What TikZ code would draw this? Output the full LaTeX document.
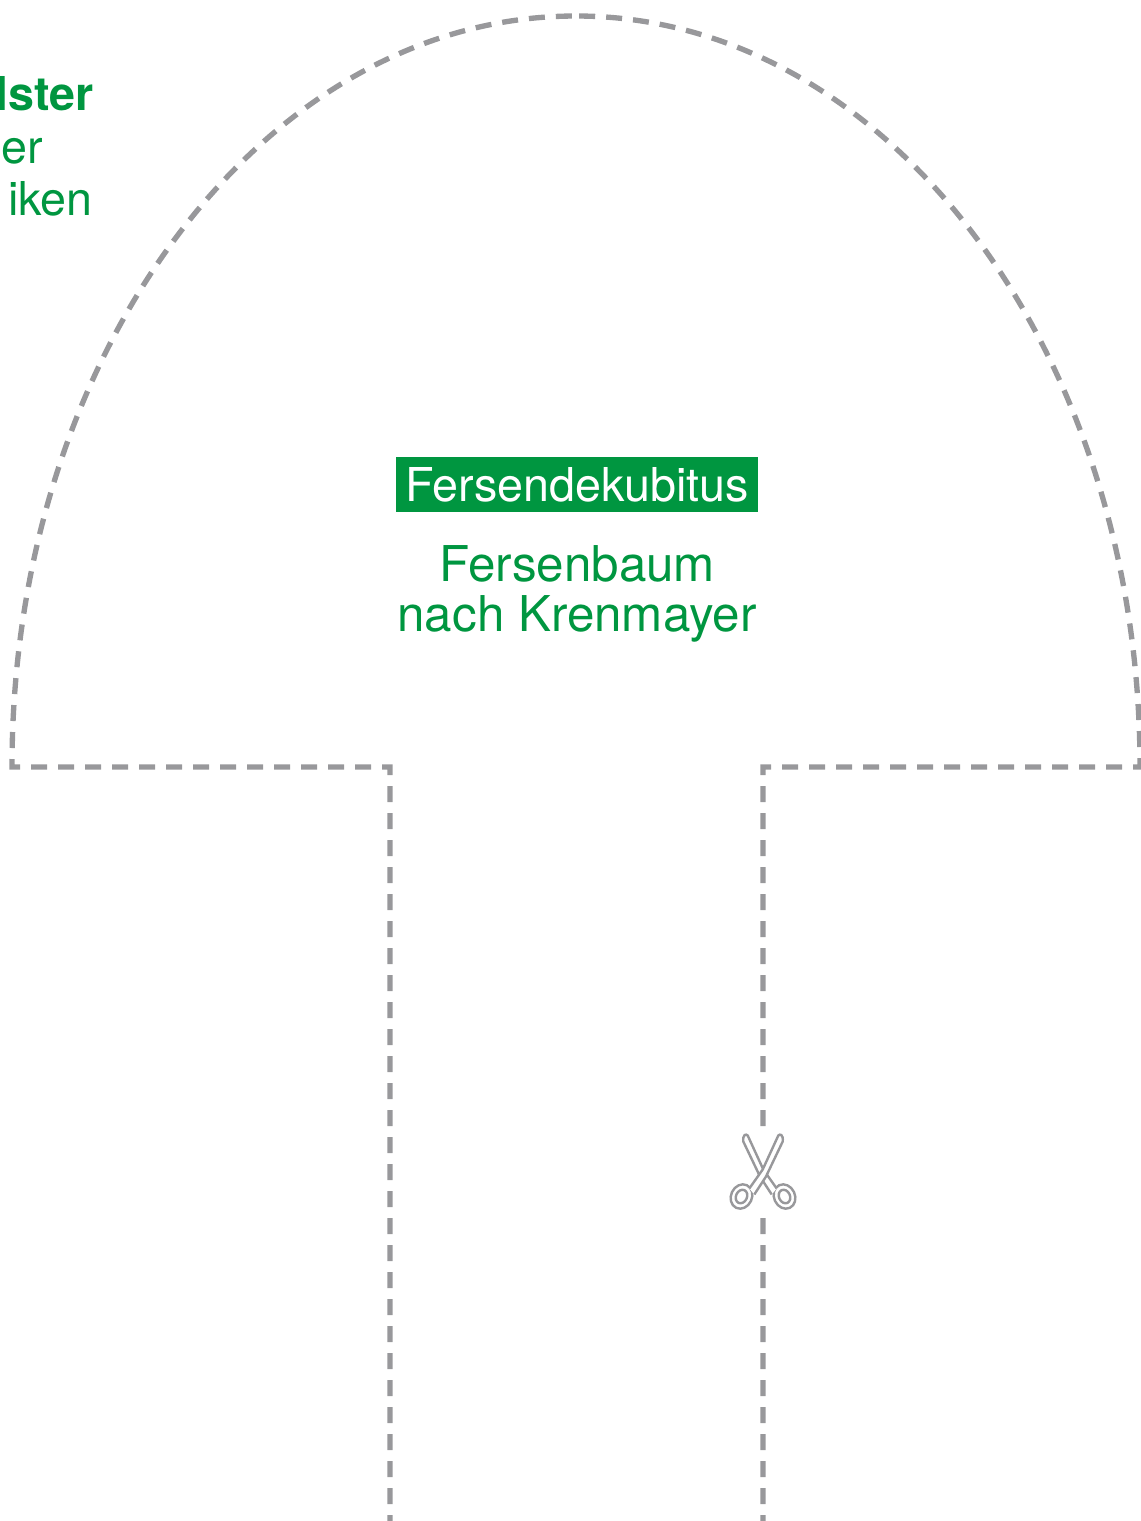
\documentclass[tikz,border=0pt]{standalone}
\usepackage{fontspec}
\setmainfont{TeX Gyre Heros}
\definecolor{padgreen}{RGB}{0,150,64}
\definecolor{cutgray}{RGB}{152,152,155}
\tikzset{
  cutline/.style={draw=cutgray,line width=4pt,dash pattern=on 12pt off 8.25pt,dash phase=6pt},
  scissorline/.style={draw=cutgray,line width=1.8pt},
  bigtext/.style={font=\fontsize{35}{37.5}\selectfont,inner sep=0pt},
  padtext/.style={bigtext,text=padgreen,align=center},
  treetext/.style={padtext,font=\fontsize{37}{37.5}\selectfont}
}
\begin{document}
\begin{tikzpicture}[x=0.75pt,y=-0.75pt]
\useasboundingbox (0,0) rectangle (1141,1521);
\clip (0,0) rectangle (1141,1521);

\draw[cutline] (390,1523) -- (390,767) -- (12,767) arc (180:270:564 and 751);
\draw[cutline] (763,1523) -- (763,767) -- (1140,767) arc (0:-90:564 and 751);
\draw[cutline] (390,1523.5) -- (763,1523.5);

\fill[white] (728,1128) rectangle (798,1216);
\foreach \s in {1,-1} {
\begin{scope}[shift={(763,1.5)},xscale=\s]
\draw[scissorline,fill=white,rotate around={25:(21.5,1195)}] (21.5,1195) ellipse (10.5 and 12.5);
\draw[scissorline,rotate around={25:(21.5,1195)}] (21.5,1195) ellipse (5.5 and 7);
\fill[white] (-19.7,1140) .. controls (-20.5,1133) and (-17,1132) .. (-15.3,1134)
  -- (0.3,1168) -- (13.7,1187) -- (8.7,1193) -- (-3,1175) -- cycle;
\draw[scissorline] (8.7,1193) -- (-3,1175) -- (-19.7,1140) .. controls (-20.5,1133) and (-17,1132) .. (-15.3,1134)
  -- (0.3,1168) -- (13.7,1187);
\end{scope}
}

\node[padtext,font=\fontsize{35}{37.5}\selectfont\bfseries,anchor=base east] (padtitle) at (94,110) {lster};
\node[padtext,anchor=base east] (padline) at (43,163) {er};
\node[padtext,anchor=base east] (padlinetwo) at (93,215) {iken};

\node[bigtext,fill=padgreen,text=white,minimum width=271.5pt,minimum height=41.25pt] (heading) at (577,484.5) {Fersendekubitus};
\node[treetext] (treename) at (577,593.5) {Fersenbaum\\nach Krenmayer};
\end{tikzpicture}
\end{document}
